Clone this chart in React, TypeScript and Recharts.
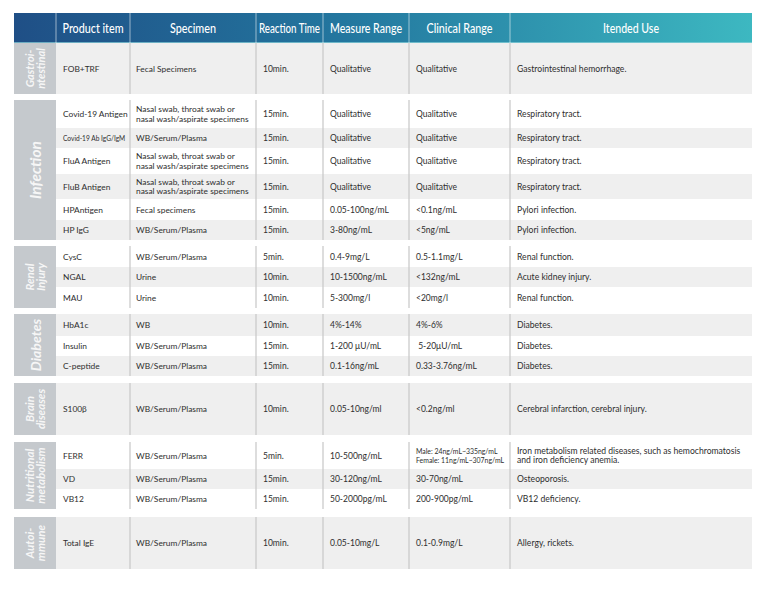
import React from 'react';
import { ComposedChart, XAxis, YAxis, ReferenceArea } from 'recharts';

// ---- table content ----
const headers = ['', 'Product item', 'Specimen', 'Reaction Time', 'Measure Range', 'Clinical Range', 'Itended Use'];
const groupNames = ['Gastroi-\nntestinal', 'Infection', 'Renal\nInjury', 'Diabetes', 'Brain\ndiseases', 'Nutritional\nmetabolism', 'Autoi-\nmmune'];
const groupSizes = [1, 6, 3, 3, 1, 3, 1];

const SWAB = 'Nasal swab, throat swab or\nnasal wash/aspirate specimens';
const WSP = 'WB/Serum/Plasma';

const products = [
  'FOB+TRF',
  'Covid-19 Antigen', 'Covid-19 Ab IgG/IgM', 'FluA Antigen', 'FluB Antigen', 'HPAntigen', 'HP IgG',
  'CysC', 'NGAL', 'MAU',
  'HbA1c', 'Insulin', 'C-peptide',
  'S100β',
  'FERR', 'VD', 'VB12',
  'Total IgE',
];
const specimens = [
  'Fecal Specimens',
  SWAB, WSP, SWAB, SWAB, 'Fecal specimens', WSP,
  WSP, 'Urine', 'Urine',
  'WB', WSP, WSP,
  WSP,
  WSP, WSP, WSP,
  WSP,
];
const reactionTimes = [
  '10min.',
  '15min.', '15min.', '15min.', '15min.', '15min.', '15min.',
  '5min.', '10min.', '10min.',
  '10min.', '15min.', '15min.',
  '10min.',
  '5min.', '15min.', '15min.',
  '10min.',
];
const measureRanges = [
  'Qualitative',
  'Qualitative', 'Qualitative', 'Qualitative', 'Qualitative', '0.05-100ng/mL', '3-80ng/mL',
  '0.4-9mg/L', '10-1500ng/mL', '5-300mg/l',
  '4%-14%', '1-200 μU/mL', '0.1-16ng/mL',
  '0.05-10ng/ml',
  '10-500ng/mL', '30-120ng/mL', '50-2000pg/mL',
  '0.05-10mg/L',
];
const clinicalRanges = [
  'Qualitative',
  'Qualitative', 'Qualitative', 'Qualitative', 'Qualitative', '<0.1ng/mL', '<5ng/mL',
  '0.5-1.1mg/L', '<132ng/mL', '<20mg/l',
  '4%-6%', ' 5-20μU/mL', '0.33-3.76ng/mL',
  '<0.2ng/ml',
  'Male: 24ng/mL~335ng/mL\nFemale: 11ng/mL~307ng/mL', '30-70ng/mL', '200-900pg/mL',
  '0.1-0.9mg/L',
];
const intendedUses = [
  'Gastrointestinal hemorrhage.',
  'Respiratory tract.', 'Respiratory tract.', 'Respiratory tract.', 'Respiratory tract.', 'Pylori infection.', 'Pylori infection.',
  'Renal function.', 'Acute kidney injury.', 'Renal function.',
  'Diabetes.', 'Diabetes.', 'Diabetes.',
  'Cerebral infarction, cerebral injury.',
  'Iron metabolism related diseases, such as hemochromatosis\nand iron deficiency anemia.', 'Osteoporosis.', 'VB12 deficiency.',
  'Allergy, rickets.',
];

const columns = [products, specimens, reactionTimes, measureRanges, clinicalRanges, intendedUses];

// ---- layout (table units == pixels) ----
const TABLE_W = 738;
const TABLE_H = 556;
const colEdges = [0, 42, 116, 242, 309, 395, 496, 738];
const textPad = [7, 6, 7, 7, 7, 7];
const colFontSizes = [8.4, 8.4, 8.5, 8.5, 8.5, 8.6];
const headerWidths = [0, 61, 46, 61, 72, 66, 56];
const HEADER_H = 30;
const rowHeights = [51, 28, 20, 26, 25, 21, 20, 21, 20, 21, 22, 20, 20, 52, 27, 20, 20, 52];
const groupGaps = [0, 6, 6, 6, 7, 7, 8];
const startShaded = [true, false, false, true, true, false, true];
const labelSizes = [11, 15.5, 11.5, 14, 11.5, 11.5, 11.5];
const smallCells: Record<string, number> = { '2:0': 6.6, '14:4': 6.9 };

const FONT = 'Lato, "Open Sans", sans-serif';
const SHADE = '#efefef';
const LABEL_BG = '#c5c9cd';
const RULE = '#c6c6c6';
const INK = '#2e2e2e';

type Box = { top: number; bottom: number; shaded: boolean };
const rowBoxes: Box[] = [];
const groupBoxes: { top: number; bottom: number }[] = [];
{
  let cursor = HEADER_H;
  let r = 0;
  groupSizes.forEach((n, g) => {
    cursor += groupGaps[g];
    const top = cursor;
    for (let i = 0; i < n; i++) {
      const shaded = startShaded[g] ? i % 2 === 0 : i % 2 === 1;
      rowBoxes.push({ top: cursor, bottom: cursor + rowHeights[r], shaded });
      cursor += rowHeights[r];
      r++;
    }
    groupBoxes.push({ top, bottom: cursor });
  });
}

const lineGap = (size: number) => Math.max(size * 1.12, 8.8);

const dataCell = (text: string, col: number, shaded: boolean, size: number) => (p: any) => {
  const { x, y, width, height } = p;
  const lines = text.split('\n');
  const gap = lineGap(size);
  const cy = y + height / 2;
  return (
    <g>
      <rect x={x} y={y} width={width} height={height} fill={shaded ? SHADE : '#ffffff'} />
      {col >= 1 && <line x1={x} x2={x} y1={y} y2={y + height} stroke={RULE} strokeWidth={1.2} />}
      <text x={x + textPad[col]} fontFamily={FONT} fontSize={size} fill={INK}>
        {lines.map((ln, i) => (
          <tspan key={i} x={x + textPad[col]} y={cy + (i - (lines.length - 1) / 2) * gap} dominantBaseline="central" xmlSpace="preserve">
            {ln}
          </tspan>
        ))}
      </text>
    </g>
  );
};

const groupCell = (text: string, size: number) => (p: any) => {
  const { x, y, width, height } = p;
  const lines = text.split('\n');
  const gap = size * 0.98;
  return (
    <g>
      <rect x={x} y={y} width={width} height={height} fill={LABEL_BG} />
      <text
        transform={`translate(${x + width / 2},${y + height / 2}) rotate(-90)`}
        textAnchor="middle"
        fontFamily={FONT}
        fontStyle="italic"
        fontWeight={700}
        fontSize={size}
        fill="#f6f6f6"
      >
        {lines.map((ln, i) => (
          <tspan key={i} x={0} y={(i - (lines.length - 1) / 2) * gap} dominantBaseline="central">
            {ln}
          </tspan>
        ))}
      </text>
    </g>
  );
};

const headerBand = (p: any) => {
  const { x, y, width, height } = p;
  return (
    <g>
      <defs>
        <linearGradient id="hdrGrad" x1="0" y1="0" x2="1" y2="0">
          <stop offset="0%" stopColor="#1f4f86" />
          <stop offset="45%" stopColor="#23779f" />
          <stop offset="100%" stopColor="#3db8c1" />
        </linearGradient>
      </defs>
      <rect x={x} y={y} width={width} height={height} fill="url(#hdrGrad)" />
      <rect x={x} y={y + height - 1} width={width} height={1} fill="#8fd3da" opacity={0.7} />
    </g>
  );
};

const headerCell = (text: string, col: number) => (p: any) => {
  const { x, y, width, height } = p;
  if (!text) return <g />;
  return (
    <g>
      <line x1={x} x2={x} y1={y} y2={y + height} stroke="#ffffff" strokeOpacity={0.55} strokeWidth={1} />
      <text
        x={x + width / 2}
        y={y + height / 2}
        textAnchor="middle"
        dominantBaseline="central"
        fontFamily={FONT}
        fontSize={12.5}
        fontWeight={500}
        fill="#ffffff"
        textLength={headerWidths[col]}
        lengthAdjust="spacingAndGlyphs"
      >
        {text}
      </text>
    </g>
  );
};

export default function App() {
  return (
    <div style={{ position: 'absolute', left: 0, top: 0, width: 765, height: 590, background: '#ffffff' }}>
      <ComposedChart width={765} height={590} data={[]} margin={{ top: 13, left: 14, right: 13, bottom: 21 }}>
        <XAxis type="number" dataKey="x" domain={[0, TABLE_W]} allowDataOverflow hide />
        <YAxis type="number" dataKey="y" domain={[0, TABLE_H]} allowDataOverflow reversed hide />

        <ReferenceArea x1={0} x2={TABLE_W} y1={0} y2={HEADER_H} shape={headerBand} ifOverflow="visible" />
        {headers.map((h, c) => (
          <ReferenceArea
            key={`h-${c}`}
            x1={colEdges[c]}
            x2={colEdges[c + 1]}
            y1={0}
            y2={HEADER_H}
            shape={headerCell(h, c)}
            ifOverflow="visible"
          />
        ))}

        {rowBoxes.map((row, r) =>
          columns.map((col, c) => (
            <ReferenceArea
              key={`c-${r}-${c}`}
              x1={colEdges[c + 1]}
              x2={colEdges[c + 2]}
              y1={row.top}
              y2={row.bottom}
              shape={dataCell(col[r], c, row.shaded, smallCells[`${r}:${c}`] ?? colFontSizes[c])}
              ifOverflow="visible"
            />
          ))
        )}

        {groupBoxes.map((g, i) => (
          <ReferenceArea
            key={`g-${i}`}
            x1={colEdges[0]}
            x2={colEdges[1]}
            y1={g.top}
            y2={g.bottom}
            shape={groupCell(groupNames[i], labelSizes[i])}
            ifOverflow="visible"
          />
        ))}
      </ComposedChart>
    </div>
  );
}
